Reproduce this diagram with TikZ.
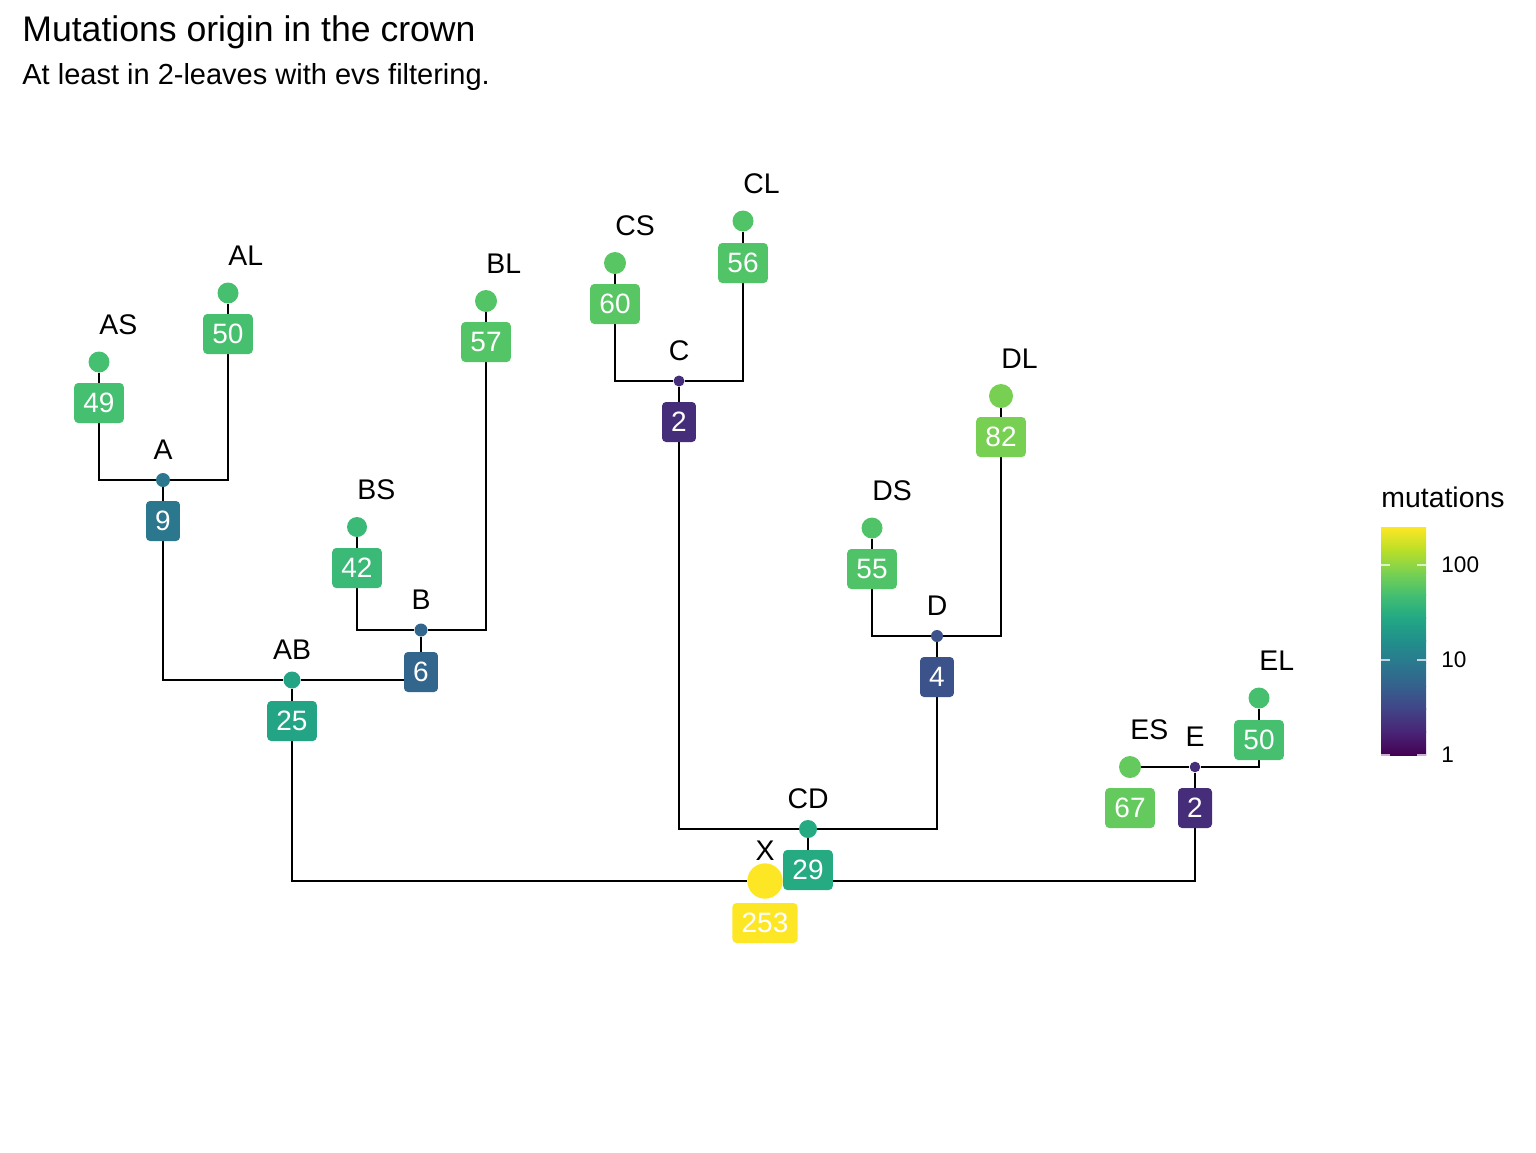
\documentclass[tikz,border=0pt]{standalone}
\usepackage{fontspec}
\setmainfont{Liberation Sans}
\usetikzlibrary{backgrounds}
\definecolor{vir0}{HTML}{440154}
\definecolor{vir1}{HTML}{482576}
\definecolor{vir2}{HTML}{414487}
\definecolor{vir3}{HTML}{35608D}
\definecolor{vir4}{HTML}{2A788E}
\definecolor{vir5}{HTML}{21908C}
\definecolor{vir6}{HTML}{22A884}
\definecolor{vir7}{HTML}{43BF71}
\definecolor{vir8}{HTML}{7AD151}
\definecolor{vir9}{HTML}{BBDF27}
\definecolor{vir10}{HTML}{FDE725}
\definecolor{colAS}{HTML}{45C070}
\definecolor{colAL}{HTML}{46C06F}
\definecolor{colA}{HTML}{2B778E}
\definecolor{colBS}{HTML}{3BB976}
\definecolor{colBL}{HTML}{54C567}
\definecolor{colB}{HTML}{32668D}
\definecolor{colAB}{HTML}{22A485}
\definecolor{colCS}{HTML}{59C664}
\definecolor{colCL}{HTML}{51C468}
\definecolor{colC}{HTML}{462D7A}
\definecolor{colDS}{HTML}{50C369}
\definecolor{colDL}{HTML}{78D053}
\definecolor{colD}{HTML}{3B538A}
\definecolor{colCD}{HTML}{25AA82}
\definecolor{colES}{HTML}{64CA5E}
\definecolor{colEL}{HTML}{46C06F}
\definecolor{colE}{HTML}{462D7A}
\definecolor{colX}{HTML}{FDE725}
\begin{document}
\begin{tikzpicture}[x=0.5pt,y=-0.5pt,
  mdot/.style 2 args={circle,fill=#1,inner sep=0pt,minimum size=#2},
  mbox/.style={fill=#1,text=white,rounded corners=2pt,minimum height=20pt,
    inner xsep=4.6pt,inner ysep=0pt,font=\fontsize{14}{17}\selectfont},
  lab/.style={inner sep=0pt,font=\fontsize{14.2}{17}\selectfont},
  branch/.style={line width=1.3pt}]
\useasboundingbox (0,0) rectangle (1536,1152);

\node[anchor=base west,inner sep=0pt,font=\fontsize{17.8}{21}\selectfont] (title) at (22,41) {Mutations origin in the crown};
\node[anchor=base west,inner sep=0pt,font=\fontsize{14.5}{17}\selectfont] (subtitle) at (22,84) {At least in 2-leaves with evs filtering.};

\node[mdot={colAS}{10.5pt}] (AS) at (99,362) {};
\node[mdot={colAL}{10.5pt}] (AL) at (228,293) {};
\node[mdot={colA}{7pt}] (A) at (163,480) {};
\node[mdot={colBS}{10pt}] (BS) at (357,527) {};
\node[mdot={colBL}{11pt}] (BL) at (486,301) {};
\node[mdot={colB}{6.5pt}] (B) at (421,630) {};
\node[mdot={colAB}{8.5pt}] (AB) at (292,680) {};
\node[mdot={colCS}{11pt}] (CS) at (615,263) {};
\node[mdot={colCL}{10.5pt}] (CL) at (743,221) {};
\node[mdot={colC}{5.5pt}] (C) at (679,381) {};
\node[mdot={colDS}{10.5pt}] (DS) at (872,528) {};
\node[mdot={colDL}{12pt}] (DL) at (1001,396) {};
\node[mdot={colD}{6pt}] (D) at (937,636) {};
\node[mdot={colCD}{9pt}] (CD) at (808,829) {};
\node[mdot={colES}{11pt}] (ES) at (1130,767) {};
\node[mdot={colEL}{10.5pt}] (EL) at (1259,698) {};
\node[mdot={colE}{5.3pt}] (E) at (1195,767) {};
\node[mdot={colX}{17.7pt}] (X) at (765,881) {};

\begin{scope}[on background layer]
\draw[branch] (AS) |- (A);
\draw[branch] (AL) |- (A);
\draw[branch] (BS) |- (B);
\draw[branch] (BL) |- (B);
\draw[branch] (A) |- (AB);
\draw[branch] (B) |- (AB);
\draw[branch] (CS) |- (C);
\draw[branch] (CL) |- (C);
\draw[branch] (DS) |- (D);
\draw[branch] (DL) |- (D);
\draw[branch] (C) |- (CD);
\draw[branch] (D) |- (CD);
\draw[branch] (ES) -- (E);
\draw[branch] (EL) |- (E);
\draw[branch] (AB) |- (X);
\draw[branch] (CD) |- (X);
\draw[branch] (E) |- (X);
\end{scope}

\node[lab,anchor=base west] (ASl) at (99,334) {AS};
\node[lab,anchor=base west] (ALl) at (228,265) {AL};
\node[lab,anchor=base] (Al) at (163,459) {A};
\node[lab,anchor=base west] (BSl) at (357,499) {BS};
\node[lab,anchor=base west] (BLl) at (486,273) {BL};
\node[lab,anchor=base] (Bl) at (421,609) {B};
\node[lab,anchor=base] (ABl) at (292,659) {AB};
\node[lab,anchor=base west] (CSl) at (615,235) {CS};
\node[lab,anchor=base west] (CLl) at (743,193) {CL};
\node[lab,anchor=base] (Cl) at (679,360) {C};
\node[lab,anchor=base west] (DSl) at (872,500) {DS};
\node[lab,anchor=base west] (DLl) at (1001,368) {DL};
\node[lab,anchor=base] (Dl) at (937,615) {D};
\node[lab,anchor=base] (CDl) at (808,808) {CD};
\node[lab,anchor=base west] (ESl) at (1130,739) {ES};
\node[lab,anchor=base west] (ELl) at (1259,670) {EL};
\node[lab,anchor=base] (El) at (1195,746) {E};
\node[lab,anchor=base] (Xl) at (765,860) {X};

\node[mbox=colAS] (ASb) at (99,403) {49};
\node[mbox=colAL] (ALb) at (228,334) {50};
\node[mbox=colA] (Ab) at (163,521) {9};
\node[mbox=colBS] (BSb) at (357,568) {42};
\node[mbox=colBL] (BLb) at (486,342) {57};
\node[mbox=colB] (Bb) at (421,672) {6};
\node[mbox=colAB] (ABb) at (292,721) {25};
\node[mbox=colCS] (CSb) at (615,304) {60};
\node[mbox=colCL] (CLb) at (743,263) {56};
\node[mbox=colC] (Cb) at (679,422) {2};
\node[mbox=colDS] (DSb) at (872,569) {55};
\node[mbox=colDL] (DLb) at (1001,437) {82};
\node[mbox=colD] (Db) at (937,677) {4};
\node[mbox=colCD] (CDb) at (808,870) {29};
\node[mbox=colES] (ESb) at (1130,808) {67};
\node[mbox=colEL] (ELb) at (1259,740) {50};
\node[mbox=colE] (Eb) at (1195,808) {2};
\node[mbox=colX] (Xb) at (765,923) {253};

\node[lab,anchor=base west] (legtitle) at (1381,507) {mutations};
\shade[bottom color=vir0,top color=vir1] (1381,755) rectangle (1426,731.7);
\shade[bottom color=vir1,top color=vir2] (1381,732.2) rectangle (1426,708.9);
\shade[bottom color=vir2,top color=vir3] (1381,709.4) rectangle (1426,686.1);
\shade[bottom color=vir3,top color=vir4] (1381,686.6) rectangle (1426,663.3);
\shade[bottom color=vir4,top color=vir5] (1381,663.8) rectangle (1426,640.5);
\shade[bottom color=vir5,top color=vir6] (1381,641) rectangle (1426,617.7);
\shade[bottom color=vir6,top color=vir7] (1381,618.2) rectangle (1426,594.9);
\shade[bottom color=vir7,top color=vir8] (1381,595.4) rectangle (1426,572.1);
\shade[bottom color=vir8,top color=vir9] (1381,572.6) rectangle (1426,549.3);
\shade[bottom color=vir9,top color=vir10] (1381,549.8) rectangle (1426,527);
\draw[white,opacity=0.7,line width=0.8pt] (1381,565) -- (1390,565) (1417,565) -- (1426,565);
\draw[white,opacity=0.7,line width=0.8pt] (1381,660) -- (1390,660) (1417,660) -- (1426,660);
\draw[white,opacity=0.7,line width=0.8pt] (1381,755) -- (1390,755) (1417,755) -- (1426,755);
\node[anchor=west,inner sep=0pt,font=\fontsize{11.3}{13}\selectfont] (t100) at (1441,565) {100};
\node[anchor=west,inner sep=0pt,font=\fontsize{11.3}{13}\selectfont] (t10) at (1441,660) {10};
\node[anchor=west,inner sep=0pt,font=\fontsize{11.3}{13}\selectfont] (t1) at (1441,755) {1};
\end{tikzpicture}
\end{document}
